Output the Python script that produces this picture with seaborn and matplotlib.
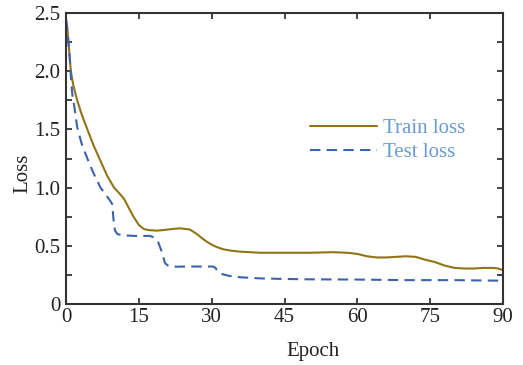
import numpy as np
import pandas as pd
import matplotlib
matplotlib.use("Agg")
import matplotlib.pyplot as plt
import seaborn as sns
from matplotlib.ticker import MultipleLocator

train_epoch = [0, 0.3, 0.8, 1.0, 1.5, 2.3, 3.3, 4.4, 5.7, 7.1, 8.5, 9.9, 11.0, 12.0, 13.0,
               13.9, 15, 16, 17, 18.7, 20, 22, 23.5, 25.5, 27, 28, 29, 30, 31, 32.4, 34,
               35.8, 40, 45, 50, 55, 58, 60, 62, 64, 66, 68, 70, 72, 74, 76, 78, 80, 82,
               84, 86, 88, 89, 90]
train_loss = [2.45, 2.36, 2.1, 2.0, 1.88, 1.75, 1.62, 1.5, 1.36, 1.23, 1.1, 1.0, 0.95,
              0.9, 0.82, 0.75, 0.68, 0.645, 0.635, 0.63, 0.635, 0.645, 0.65, 0.64, 0.6,
              0.565, 0.535, 0.51, 0.49, 0.47, 0.458, 0.45, 0.44, 0.44, 0.44, 0.445, 0.44,
              0.43, 0.41, 0.40, 0.40, 0.405, 0.41, 0.405, 0.38, 0.36, 0.33, 0.31, 0.305,
              0.305, 0.31, 0.31, 0.305, 0.29]

test_epoch = [0, 0.4, 0.8, 1.0, 1.3, 1.7, 2.3, 3.2, 4.4, 5.6, 7.1, 8.2, 9.2, 9.5, 9.8,
              10.1, 10.6, 11.8, 14, 16, 17.3, 18.2, 19.0, 19.8, 20.4, 21.0, 22, 25, 29,
              30.3, 30.8, 31.3, 32.3, 33.8, 35.8, 40, 45, 50, 60, 70, 80, 90]
test_loss = [2.44, 2.3, 2.1, 1.95, 1.8, 1.7, 1.52, 1.38, 1.25, 1.13, 1.0, 0.94, 0.88,
             0.86, 0.72, 0.63, 0.60, 0.59, 0.585, 0.585, 0.585, 0.57, 0.53, 0.44, 0.35,
             0.33, 0.32, 0.322, 0.322, 0.322, 0.31, 0.275, 0.255, 0.24, 0.23, 0.22, 0.215,
             0.212, 0.21, 0.205, 0.205, 0.20]

x_ticks = [0, 15, 30, 45, 60, 75, 90]
y_ticks = [0, 0.5, 1.0, 1.5, 2.0, 2.5]
y_tick_labels = ["0", "0.5", "1.0", "1.5", "2.0", "2.5"]

sns.set_theme(style="ticks")
plt.rcParams["font.family"] = ["Liberation Serif", "DejaVu Serif"]

fig = plt.figure(figsize=(5.23, 3.65), dpi=100)
ax = fig.add_axes([66 / 523, (365 - 304) / 365, (503 - 66) / 523, (304 - 13) / 365])

train_df = pd.DataFrame({"Epoch": train_epoch, "Loss": train_loss})
test_df = pd.DataFrame({"Epoch": test_epoch, "Loss": test_loss})

sns.lineplot(data=train_df, x="Epoch", y="Loss", ax=ax, color="#8f7418", lw=1.5,
             label="Train loss")
sns.lineplot(data=test_df, x="Epoch", y="Loss", ax=ax, color="#3d62ad", lw=1.5,
             label="Test loss")
ax.lines[1].set_dashes([5, 3])

ax.set_xlim(0, 90)
ax.set_ylim(0, 2.5)
ax.set_xticks(x_ticks)
ax.set_yticks(y_ticks)
ax.set_yticklabels(y_tick_labels)
ax.yaxis.set_minor_locator(MultipleLocator(0.25))
ax.tick_params(which="both", direction="in", top=True, right=True, length=4,
               width=1.2, color="#222222", labelsize=15, labelcolor="#222222")
ax.tick_params(axis="x", pad=3)
ax.tick_params(axis="y", pad=4)
for s in ax.spines.values():
    s.set_linewidth(1.5)
    s.set_color("#333333")

ax.set_xlabel("Epoch", fontsize=15, color="#222222")
ax.set_ylabel("Loss", fontsize=15, color="#222222")
ax.xaxis.set_label_coords(0.565, -0.13)
ax.yaxis.set_label_coords(-0.077, 0.45)

leg = ax.legend(loc="center left", bbox_to_anchor=(0.558, 0.562), frameon=False,
                fontsize=15, handlelength=3.2, handletextpad=0.33, borderpad=0,
                borderaxespad=0, labelspacing=0.2)
for t in leg.get_texts():
    t.set_color("#6a9bd2")

fig.savefig("out.png", dpi=100)
